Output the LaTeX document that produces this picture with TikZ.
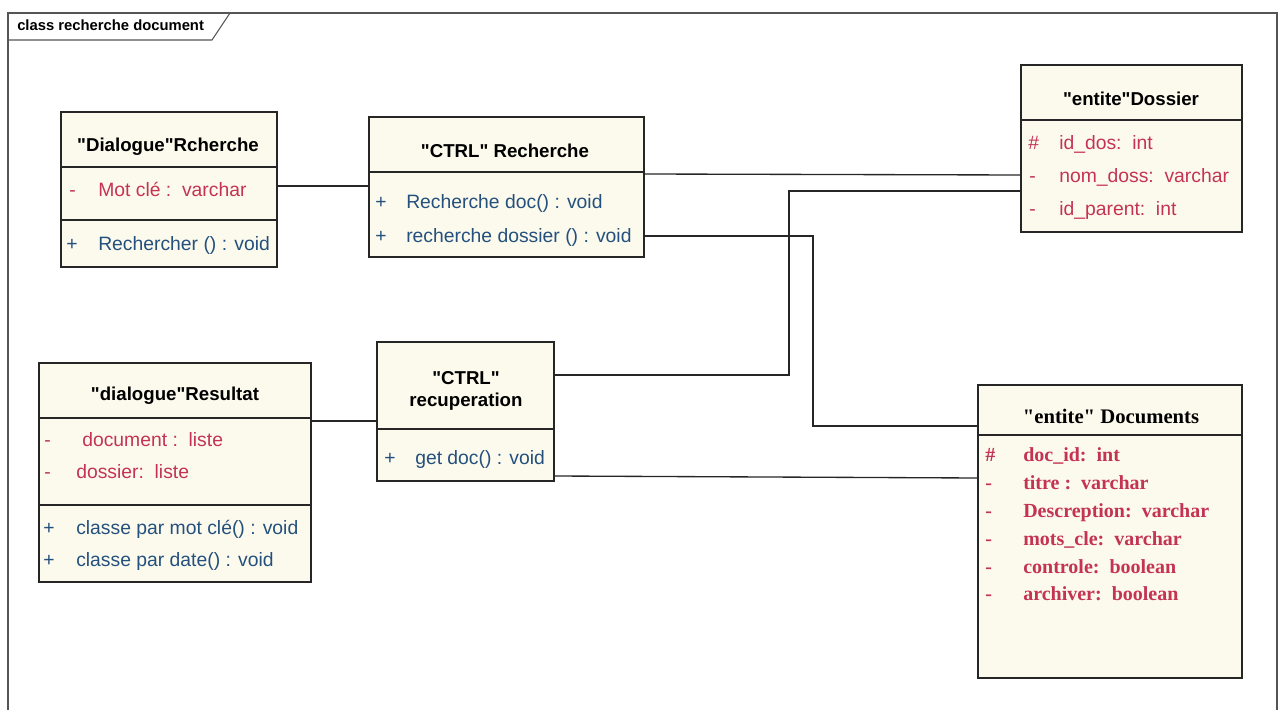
\documentclass[tikz,border=0pt]{standalone}
\usepackage{fontspec}
\setmainfont{Liberation Sans}
\newfontfamily\sansf{Liberation Sans}
\newfontfamily\serifb{Liberation Serif}
\usetikzlibrary{fit}
\definecolor{cream}{HTML}{FCFAEC}
\definecolor{attr}{HTML}{C43452}
\definecolor{oper}{HTML}{24507E}
\definecolor{frm}{HTML}{555555}
\begin{document}
\begin{tikzpicture}[x=0.75pt,y=-0.75pt,
 box/.style={draw=black!85, line width=1.2pt, fill=cream, inner sep=0pt},
 sepline/.style={draw=black!85, line width=1pt},
 conn/.style={draw=black!85, line width=1pt},
 ttl/.style={font=\sansf\bfseries\fontsize{14}{17}\selectfont, inner sep=0pt, align=center},
 attrtxt/.style={text=attr, font=\sansf\fontsize{14.5}{16}\selectfont, anchor=west, inner sep=0pt, text height=1.75ex, text depth=0.2ex},
 optxt/.style={text=oper, font=\sansf\fontsize{14.5}{16}\selectfont, anchor=west, inner sep=0pt, text height=1.75ex, text depth=0.2ex},
 dttl/.style={font=\serifb\bfseries\fontsize{15.5}{17}\selectfont, inner sep=0pt},
 dattr/.style={text=attr, font=\serifb\bfseries\fontsize{15}{17}\selectfont, anchor=west, inner sep=0pt, text height=1.75ex, text depth=0.2ex}]
\useasboundingbox (0,0) rectangle (1279,710);
% frame
\draw[frm, line width=0.8pt] (8,715) -- (8,13) -- (1277,13) -- (1277,715);
\draw[frm, line width=0.8pt] (8,40) -- (212,40) -- (230,13);
\node[anchor=west, inner sep=0pt, font=\sansf\bfseries\fontsize{11.1}{13}\selectfont] (frametitle) at (17,25) {class recherche document};

% boxes
\node[box, fit={(61,112) (277,267)}] (dlg) {};
\node[box, fit={(369,117) (644,257)}] (ctrl) {};
\node[box, fit={(1021,65) (1242,232)}] (dos) {};
\node[box, fit={(39,363) (311,582)}] (res) {};
\node[box, fit={(377,342) (554,481)}] (rec) {};
\node[box, fit={(978,385) (1242,678)}] (doc) {};

% separators
\draw[sepline] (dlg.west |- 0,167) -- (dlg.east |- 0,167);
\draw[sepline] (dlg.west |- 0,220) -- (dlg.east |- 0,220);
\draw[sepline] (ctrl.west |- 0,172) -- (ctrl.east |- 0,172);
\draw[sepline] (dos.west |- 0,120) -- (dos.east |- 0,120);
\draw[sepline] (res.west |- 0,418) -- (res.east |- 0,418);
\draw[sepline] (res.west |- 0,505) -- (res.east |- 0,505);
\draw[sepline] (rec.west |- 0,429) -- (rec.east |- 0,429);
\draw[sepline] (doc.west |- 0,435) -- (doc.east |- 0,435);

% Dialogue Rcherche
\node[ttl] (dlgt) at (168,147) {"Dialogue"Rcherche};
\node[attrtxt] (dlgs1) at (69,191) {-};
\node[attrtxt] (dlga1) at (98,191) {Mot clé :\ \ varchar};
\node[optxt] (dlgs2) at (66,245) {+};
\node[optxt] (dlgo1) at (98,245) {Rechercher () : void};

% CTRL Recherche
\node[ttl] (ctrlt) at (505,151) {"CTRL" Recherche};
\node[optxt] (ctrls1) at (375,203) {+};
\node[optxt] (ctrlo1) at (406,203) {Recherche doc() : void};
\node[optxt] (ctrls2) at (375,237) {+};
\node[optxt] (ctrlo2) at (406,237) {recherche dossier () : void};

% entite Dossier
\node[ttl] (dost) at (1131,99) {"entite"Dossier};
\node[attrtxt] (doss1) at (1028,144) {\#};
\node[attrtxt] (dosa1) at (1059,144) {id\_dos:\ \ int};
\node[attrtxt] (doss2) at (1029,177) {-};
\node[attrtxt] (dosa2) at (1059,177) {nom\_doss:\ \ varchar};
\node[attrtxt] (doss3) at (1029,210) {-};
\node[attrtxt] (dosa3) at (1059,210) {id\_parent:\ \ int};

% dialogue Resultat
\node[ttl] (rest) at (175,396) {"dialogue"Resultat};
\node[attrtxt] (ress1) at (44,441) {-};
\node[attrtxt] (resa1) at (82,441) {document :\ \ liste};
\node[attrtxt] (ress2) at (44,473) {-};
\node[attrtxt] (resa2) at (76,473) {dossier:\ \ liste};
\node[optxt] (ress3) at (43,529) {+};
\node[optxt] (reso1) at (76,529) {classe par mot clé() : void};
\node[optxt] (ress4) at (43,561) {+};
\node[optxt] (reso2) at (76,561) {classe par date() : void};

% CTRL recuperation
\node[ttl] (rect) at (466,391) {"CTRL"\\recuperation};
\node[optxt] (recs1) at (384,459) {+};
\node[optxt] (reco1) at (415,459) {get doc() : void};

% entite Documents
\node[dttl] (doct) at (1111,416) {"entite" Documents};
\node[dattr] (docs1) at (985,456) {\#};
\node[dattr] (doca1) at (1023,456) {doc\_id:\ \ int};
\node[dattr] (docs2) at (985,484) {-};
\node[dattr] (doca2) at (1023,484) {titre :\ \ varchar};
\node[dattr] (docs3) at (985,512) {-};
\node[dattr] (doca3) at (1023,512) {Descreption:\ \ varchar};
\node[dattr] (docs4) at (985,540) {-};
\node[dattr] (doca4) at (1023,540) {mots\_cle:\ \ varchar};
\node[dattr] (docs5) at (985,568) {-};
\node[dattr] (doca5) at (1023,568) {controle:\ \ boolean};
\node[dattr] (docs6) at (985,595) {-};
\node[dattr] (doca6) at (1023,595) {archiver:\ \ boolean};

% connectors
\coordinate (b1) at (813,426);
\coordinate (b2) at (789,191);
\draw[conn] (dlg.east |- 0,186) -- (ctrl.west |- 0,186);
\draw[conn] (ctrl.east |- 0,174) -- (dos.west |- 0,175);
\draw[conn] (ctrl.east |- 0,236) -| (b1) -- (doc.west |- b1);
\draw[conn] (rec.east |- 0,375) -| (b2) -- (dos.west |- b2);
\draw[conn] (rec.east |- 0,476) -- (doc.west |- 0,478);
\draw[conn] (res.east |- 0,421) -- (rec.west |- 0,421);
\end{tikzpicture}
\end{document}
